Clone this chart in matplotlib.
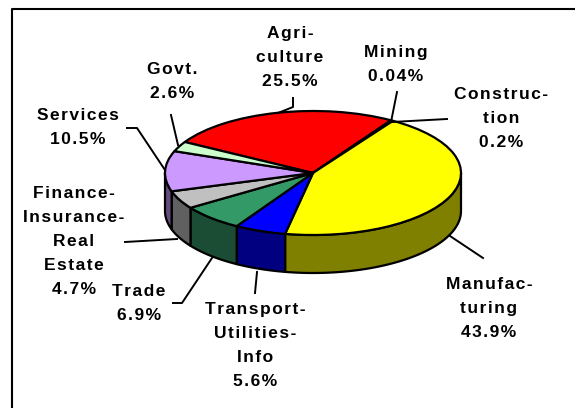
import numpy as np
import matplotlib
matplotlib.use('Agg')
import matplotlib.pyplot as plt

plt.rcParams['font.family'] = ['Liberation Sans', 'DejaVu Sans']

# Sector shares in percent, clockwise from Agriculture
sectors = ['Agriculture', 'Mining', 'Construction', 'Manufacturing', 'Transport',
           'Trade', 'Finance', 'Services', 'Govt']
shares = [25.5, 0.04, 0.2, 43.9, 5.6, 6.9, 4.7, 10.5, 2.6]
top_colors = ['#FF0000', '#333399', '#FF00FF', '#FFFF00', '#0000FF',
              '#339966', '#C0C0C0', '#CC99FF', '#CCFFCC']
side_colors = ['#800000', '#1A1A4D', '#800080', '#808000', '#000080',
               '#1A4D33', '#606060', '#664D80', '#668066']
labels = ['Agri-\nculture\n25.5%', 'Mining\n0.04%', 'Construc-\ntion\n0.2%',
          'Manufac-\nturing\n43.9%', 'Transport-\nUtilities-\nInfo\n5.6%',
          'Trade\n6.9%', 'Finance-\nInsurance-\nReal\nEstate\n4.7%',
          'Services\n10.5%', 'Govt.\n2.6%']

W, H = 575, 408
cx, cy, rx, ry = 313, 173, 148, 62
depth = 38 / ry
start = 150

fig = plt.figure(figsize=(W / 100, H / 100), dpi=100)

# Pie axes: one data unit is rx pixels across and ry pixels down, which tilts the pie
ax = fig.add_axes([0, 0, 1, 1])
ax.pie(shares, colors=top_colors, startangle=start, counterclock=False, radius=1,
       wedgeprops={'edgecolor': 'black', 'linewidth': 1.6, 'joinstyle': 'round'})
ax.set_aspect('auto')
ax.set_xlim(-cx / rx, (W - cx) / rx)
ax.set_ylim(-(H - cy) / ry, cy / ry)

# Side wall: only the front half of each slice shows
ends = start - np.cumsum(shares) / np.sum(shares) * 360
begins = np.r_[start, ends[:-1]]
for a0, a1, c in zip(begins, ends, side_colors):
    lo, hi = max(a1, -180), min(a0, 0)
    if hi <= lo:
        continue
    t = np.radians(np.linspace(lo, hi, 60))
    xs = np.cos(t)
    ys = np.sin(t)
    ax.fill(np.r_[xs, xs[::-1]], np.r_[ys, ys[::-1] - depth], facecolor=c,
            edgecolor='black', linewidth=1.6, joinstyle='round', zorder=0.5)

# Overlay in pixel coordinates for frame, leaders and labels
ov = fig.add_axes([0, 0, 1, 1], facecolor='none')
ov.set_xlim(0, W)
ov.set_ylim(H, 0)
ov.axis('off')
ov.plot([12, 12, 575], [408, 9, 9], color='black', lw=1.5, clip_on=False)

leaders = [
    ([293, 293, 278], [98, 107, 113]),
    ([397, 391], [92, 122]),
    ([392, 447], [122, 119]),
    ([450, 483], [236, 258]),
    ([257, 255], [272, 293]),
    ([212, 182, 173], [258, 303, 303]),
    ([177, 125], [239, 242]),
    ([165, 137, 127], [170, 128, 128]),
    ([178, 171], [145, 115]),
]
for xs, ys in leaders:
    ov.plot(xs, ys, color='black', lw=1.4)

label_x = [290, 396, 501, 489, 255, 139, 74, 78, 172]
label_y = [26, 45, 87, 277, 302, 284, 186, 108, 62]


def spaced(s):
    # the labels have wide letter spacing
    return '\n'.join('\u200a'.join(line) for line in s.split('\n'))


for x, y, s in zip(label_x, label_y, labels):
    ov.text(x, y, spaced(s), ha='center', va='top', fontsize=12.5,
            fontweight='bold', linespacing=1.75)

fig.savefig('out.png', dpi=100)
